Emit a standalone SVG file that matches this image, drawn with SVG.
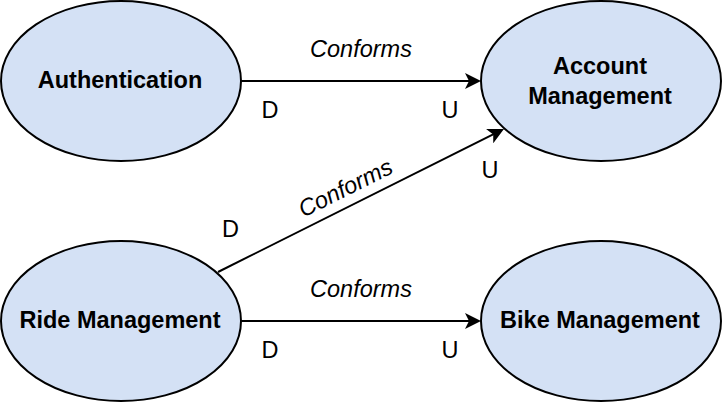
<svg xmlns="http://www.w3.org/2000/svg" width="722" height="402" viewBox="0 0 722 402">
<defs>
<style>
.node{fill:#D4E1F5;stroke:#000;stroke-width:2}
.nl{font-family:"Liberation Sans",Arial,sans-serif;font-size:23.5px;font-weight:bold;text-anchor:middle;fill:#000}
.el{font-family:"Liberation Sans",Arial,sans-serif;font-size:23.5px;font-style:italic;text-anchor:middle;fill:#000}
.du{font-family:"Liberation Sans",Arial,sans-serif;font-size:23.5px;text-anchor:middle;fill:#000}
.edge{stroke:#000;stroke-width:2;fill:none}
</style>
<marker id="arr" viewBox="0 0 16 16" refX="10" refY="8" markerWidth="16" markerHeight="16" markerUnits="userSpaceOnUse" orient="auto">
<path d="M0,0 L16,8 L0,16 L4,8 Z" fill="#000"/>
</marker>
</defs>
<rect width="722" height="402" fill="#fff"/>
<g id="connectors">
<path class="edge" d="M241,81 L475,81" marker-end="url(#arr)"/>
<path class="edge" d="M218,272 L498.6,131.7" marker-end="url(#arr)"/>
<path class="edge" d="M241,321 L475,321" marker-end="url(#arr)"/>
<text class="el" x="361" y="57">Conforms</text>
<text class="du" x="270" y="118">D</text>
<text class="du" x="450" y="118">U</text>
<text class="el" transform="translate(349,195) rotate(-26.57)">Conforms</text>
<text class="du" x="230.5" y="237">D</text>
<text class="du" x="490" y="178">U</text>
<text class="el" x="361" y="297">Conforms</text>
<text class="du" x="270" y="358">D</text>
<text class="du" x="450" y="358">U</text>
</g>
<g id="authentication">
<ellipse class="node" cx="121" cy="81" rx="120" ry="80"/>
<text class="nl" x="120" y="88">Authentication</text>
</g>
<g id="account-management">
<ellipse class="node" cx="601" cy="81" rx="120" ry="80"/>
<text class="nl" x="600" y="73.5">Account</text>
<text class="nl" x="600" y="103.5">Management</text>
</g>
<g id="ride-management">
<ellipse class="node" cx="121" cy="321" rx="120" ry="80"/>
<text class="nl" x="120" y="328">Ride Management</text>
</g>
<g id="bike-management">
<ellipse class="node" cx="601" cy="321" rx="120" ry="80"/>
<text class="nl" x="600" y="328">Bike Management</text>
</g>
</svg>
